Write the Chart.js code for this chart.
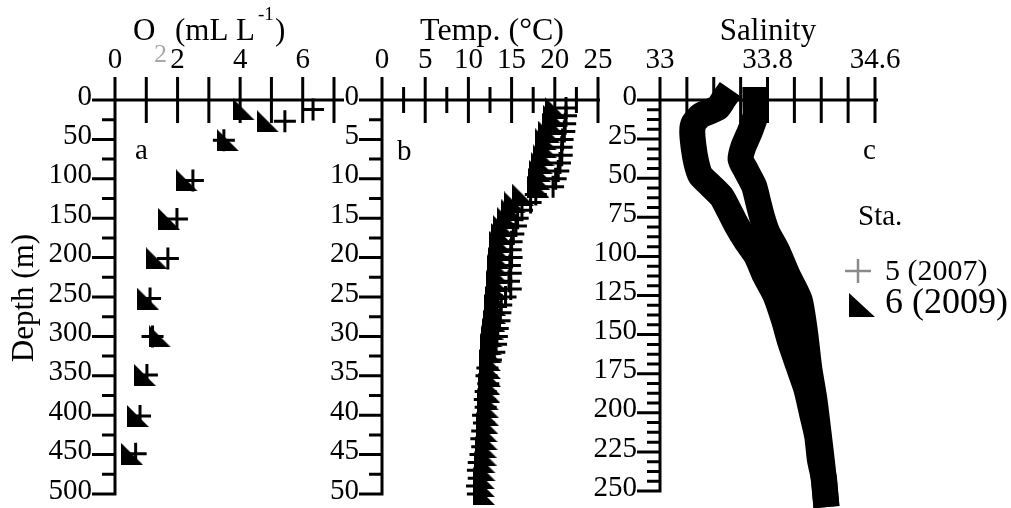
<!DOCTYPE html>
<html>
<head>
<meta charset="utf-8">
<script src="https://cdn.jsdelivr.net/npm/chart.js@4"></script>
<style>
  html, body { margin: 0; padding: 0; background: #fff; }
  #wrap { position: relative; width: 1011px; height: 508px; }
  #wrap canvas { position: absolute; left: 0; top: 0; }
</style>
</head>
<body>
<div id="wrap">
  <canvas id="panelO2" width="1011" height="508"></canvas>
  <canvas id="panelTemp" width="1011" height="508"></canvas>
  <canvas id="panelSal" width="1011" height="508"></canvas>
</div>
<script>
// ---- Dissolved oxygen (mL L-1) at discrete sampling depths ----
const o2Depth = [12, 27, 51, 102, 151, 201, 252, 300, 349, 401, 449];
const o2Sta5  = [6.33, 5.43, 3.48, 2.49, 1.98, 1.69, 1.12, 1.20, 1.02, 0.80, 0.66];
const o2Sta6  = [4.12, 4.89, 3.61, 2.30, 1.73, 1.34, 1.05, 1.44, 0.96, 0.73, 0.54];

// ---- Temperature (°C), CTD profile, upper 50 m ----
const tempDepth = [1, 2, 3, 4, 5, 6, 7, 8, 9, 10, 11, 12, 13, 14, 15, 16, 17, 18, 19, 20,
                   21, 22, 23, 24, 25, 26, 27, 28, 29, 30, 31, 32, 33, 34, 35, 36, 37, 38, 39, 40,
                   41, 42, 43, 44, 45, 46, 47, 48, 49, 50];
const tempSta5  = [21.3, 21.3, 21.2, 21.1, 20.9, 20.8, 20.8, 20.6, 20.4, 20.1, 19.8, 17.8, 17.2, 16.2, 15.7, 15.5, 15.2, 15.0, 14.9, 15.0,
                   14.8, 14.9, 14.7, 14.9, 14.3, 13.8, 13.7, 13.6, 13.4, 13.3, 13.2, 13.0, 12.6, 12.2, 12.1, 12.3, 12.0, 11.9, 12.0, 11.7,
                   11.8, 11.6, 11.5, 11.6, 11.4, 11.2, 11.1, 11.2, 11.0, 11.1];
const tempSta6  = [20.1, 19.9, 19.8, 19.3, 19.0, 19.0, 18.7, 18.5, 18.3, 18.2, 18.1, 16.3, 15.4, 15.1, 14.6, 14.1, 13.9, 13.7, 13.6, 13.5,
                   13.4, 13.4, 13.3, 13.3, 13.2, 13.1, 13.1, 13.0, 12.8, 12.7, 12.6, 12.6, 12.5, 12.5, 12.5, 12.4, 12.4, 12.3, 12.3, 12.3,
                   12.2, 12.1, 12.1, 12.0, 12.0, 11.9, 11.9, 11.8, 11.8, 11.8];

// ---- Salinity profiles, upper 250 m ----
const salDepthSta6 = [0, 5, 10, 15, 20, 30, 40, 48, 55, 62, 70, 80, 90, 100, 112, 125, 140, 155, 170, 185, 200, 215, 230, 242, 252];
const salSta6      = [33.47, 33.43, 33.30, 33.25, 33.24, 33.25, 33.27, 33.30, 33.38, 33.46, 33.51, 33.57, 33.64, 33.72, 33.78, 33.86,
                      33.92, 33.97, 34.03, 34.09, 34.13, 34.17, 34.19, 34.22, 34.23];
const salDepthSta5 = [0, 10, 20, 30, 38, 45, 55, 65, 75, 85, 96, 112, 128, 149, 171, 192, 213, 235, 252];
const salSta5      = [33.71, 33.71, 33.67, 33.62, 33.60, 33.64, 33.70, 33.73, 33.76, 33.80, 33.87, 33.95, 34.04, 34.08, 34.11,
                      34.15, 34.18, 34.21, 34.23];

// ---- Axis tick labels ----
const o2XLabels   = [0, 2, 4, 6];
const tempXLabels = [0, 5, 10, 15, 20, 25];
const salXLabels  = [33, 33.8, 34.6];
const o2YLabels   = [0, 50, 100, 150, 200, 250, 300, 350, 400, 450, 500];
const tempYLabels = [0, 5, 10, 15, 20, 25, 30, 35, 40, 45, 50];
const salYLabels  = [0, 25, 50, 75, 100, 125, 150, 175, 200, 225, 250];

const stationNames = ['5 (2007)', '6 (2009)'];

const FONT = '"Liberation Serif", "Times New Roman", serif';

// right-angled triangle marker (vertical left side, flat base)
function triangleMarker(w, h) {
  const c = document.createElement('canvas');
  c.width = w; c.height = h;
  const g = c.getContext('2d');
  g.fillStyle = '#000';
  g.beginPath();
  g.moveTo(0, 0); g.lineTo(0, h); g.lineTo(w, h); g.closePath();
  g.fill();
  return c;
}
const triMark = triangleMarker(22, 22);

function pairs(xs, ys) { return xs.map((v, i) => ({ x: v, y: ys[i] })); }

// axis lines with crossing ticks on the top axis and left-pointing ticks on the depth axis
function drawFrame(chart, f) {
  const ctx = chart.ctx;
  const xs = chart.scales.x, ys = chart.scales.y;
  const ax = xs.getPixelForValue(xs.min);
  const ay = ys.getPixelForValue(ys.min);
  const yEnd = ys.getPixelForValue(ys.max);
  ctx.save();
  ctx.strokeStyle = '#000';
  ctx.lineWidth = 3;
  ctx.lineCap = 'butt';
  ctx.beginPath();
  ctx.moveTo(ax - 23, ay);
  ctx.lineTo(xs.getPixelForValue(xs.max) + f.xOver, ay);
  ctx.moveTo(ax, ay);
  ctx.lineTo(ax, yEnd + 1.5);
  const nx = Math.round((xs.max - xs.min) / f.xStep);
  for (let i = 0; i <= nx; i++) {
    const v = xs.min + i * f.xStep;
    const px = xs.getPixelForValue(v);
    const isLong = f.allLong || f.xLabels.some(l => Math.abs(l - v) < 1e-6);
    const h = isLong ? 23 : 13;
    ctx.moveTo(px, ay - h);
    ctx.lineTo(px, i === 0 ? ay : ay + h);
  }
  const ny = Math.round((ys.max - ys.min) / f.yStep);
  for (let i = 1; i <= ny; i++) {
    const v = ys.min + i * f.yStep;
    const py = ys.getPixelForValue(v);
    const isMajor = f.yLabels.some(l => Math.abs(l - v) < 1e-6);
    ctx.moveTo(ax - (isMajor ? 23 : 13), py);
    ctx.lineTo(ax, py);
  }
  ctx.stroke();
  ctx.restore();
}

function text(ctx, str, x, y, size, opts) {
  opts = opts || {};
  ctx.save();
  ctx.font = size + 'px ' + FONT;
  ctx.fillStyle = opts.color || '#000';
  ctx.textAlign = opts.align || 'left';
  ctx.textBaseline = opts.baseline || 'alphabetic';
  ctx.fillText(str, x, y);
  ctx.restore();
}

function makePanel(id, cfg) {
  const tickFont = { family: FONT, size: 29 };
  return new Chart(document.getElementById(id), {
    type: 'scatter',
    data: { datasets: cfg.datasets },
    options: {
      responsive: false,
      animation: false,
      events: [],
      layout: { padding: cfg.padding },
      plugins: { legend: { display: false }, tooltip: { enabled: false } },
      scales: {
        x: {
          type: 'linear', position: 'top', min: cfg.xMin, max: cfg.xMax,
          afterFit: s => { s.height = 100; s.paddingLeft = 0; s.paddingRight = 0; },
          afterBuildTicks: s => { s.ticks = cfg.xLabels.map(v => ({ value: v })); },
          ticks: { callback: v => String(v), font: tickFont, color: '#000', padding: 22,
                   maxRotation: 0, minRotation: 0, autoSkip: false },
          grid: { display: false, drawTicks: false },
          border: { display: false }
        },
        y: {
          type: 'linear', position: 'left', reverse: true, min: cfg.yMin, max: cfg.yMax,
          afterFit: s => { s.width = cfg.yWidth; s.paddingTop = 0; s.paddingBottom = 0; },
          afterBuildTicks: s => { s.ticks = cfg.yLabels.map(v => ({ value: v })); },
          ticks: { callback: v => String(v), font: tickFont, color: '#000', padding: 23,
                   labelOffset: -3, autoSkip: false },
          grid: { display: false, drawTicks: false },
          border: { display: false }
        }
      }
    },
    plugins: [{
      id: 'frame',
      beforeDatasetsDraw: chart => drawFrame(chart, cfg.frame),
      afterDraw: chart => cfg.decor(chart.ctx)
    }]
  });
}

// ---- panel a: oxygen ----
makePanel('panelO2', {
  xMin: 0, xMax: 7, yMin: 0, yMax: 500,
  xLabels: o2XLabels, yLabels: o2YLabels,
  yWidth: 115,
  padding: { left: 0, top: 0, right: 1011 - 334, bottom: 8 },
  frame: { xStep: 1, yStep: 25, xOver: 10, allLong: true, xLabels: o2XLabels, yLabels: o2YLabels },
  datasets: [
    { label: stationNames[0], data: pairs(o2Sta5, o2Depth), pointStyle: 'cross', pointRadius: 11,
      pointBorderWidth: 3, pointBorderColor: '#000', pointBackgroundColor: '#000', clip: false },
    { label: stationNames[1], data: pairs(o2Sta6, o2Depth), pointStyle: triMark, pointRadius: 11,
      clip: false }
  ],
  decor: ctx => {
    text(ctx, 'O', 133, 40, 31);
    text(ctx, '2', 154, 62, 26, { color: '#a8a8a8' });
    text(ctx, '(mL L', 175, 40, 31);
    text(ctx, '-1', 258, 20, 19);
    text(ctx, ')', 275, 40, 31);
    text(ctx, 'a', 135, 159, 29);
    ctx.save();
    ctx.translate(25, 298);
    ctx.rotate(-Math.PI / 2);
    text(ctx, 'Depth (m)', 0, 0, 31, { align: 'center', baseline: 'middle' });
    ctx.restore();
  }
});

// ---- panel b: temperature ----
makePanel('panelTemp', {
  xMin: 0, xMax: 25, yMin: 0, yMax: 50,
  xLabels: tempXLabels, yLabels: tempYLabels,
  yWidth: 80,
  padding: { left: 382 - 80, top: 0, right: 1011 - 598, bottom: 13 },
  frame: { xStep: 2.5, yStep: 2.5, xOver: 2, allLong: false, xLabels: tempXLabels, yLabels: tempYLabels },
  datasets: [
    { label: stationNames[0], data: pairs(tempSta5, tempDepth), pointStyle: 'cross', pointRadius: 11,
      pointBorderWidth: 3, pointBorderColor: '#000', pointBackgroundColor: '#000', clip: false },
    { label: stationNames[1], data: pairs(tempSta6, tempDepth), pointStyle: triMark, pointRadius: 11,
      clip: false }
  ],
  decor: ctx => {
    text(ctx, 'Temp. (°C)', 492, 40, 32, { align: 'center' });
    text(ctx, 'b', 397, 160, 29);
  }
});

// ---- panel c: salinity ----
makePanel('panelSal', {
  xMin: 33, xMax: 34.6, yMin: 0, yMax: 250,
  xLabels: salXLabels, yLabels: salYLabels,
  yWidth: 100,
  padding: { left: 660 - 100, top: 0, right: 1011 - 875, bottom: 17 },
  frame: { xStep: 0.2, yStep: 6.25, xOver: 3, allLong: true, xLabels: salXLabels, yLabels: salYLabels },
  datasets: [
    { label: stationNames[0], data: pairs(salSta5, salDepthSta5), showLine: true, pointRadius: 0,
      borderColor: '#000', borderWidth: 26, borderCapStyle: 'square', borderJoinStyle: 'round',
      tension: 0.2, clip: false },
    { label: stationNames[1], data: pairs(salSta6, salDepthSta6), showLine: true, pointRadius: 0,
      borderColor: '#000', borderWidth: 26, borderCapStyle: 'square', borderJoinStyle: 'round',
      tension: 0.2, clip: false }
  ],
  decor: ctx => {
    text(ctx, 'Salinity', 768, 40, 31, { align: 'center' });
    text(ctx, 'c', 863, 159, 29);
    // station key
    text(ctx, 'Sta.', 858, 225, 29);
    ctx.save();
    ctx.strokeStyle = '#8a8a8a';
    ctx.lineWidth = 2.5;
    ctx.beginPath();
    ctx.moveTo(845, 271); ctx.lineTo(871, 271);
    ctx.moveTo(858, 259); ctx.lineTo(858, 283);
    ctx.stroke();
    ctx.fillStyle = '#000';
    ctx.beginPath();
    ctx.moveTo(849, 293); ctx.lineTo(849, 317); ctx.lineTo(875, 317); ctx.closePath();
    ctx.fill();
    ctx.restore();
    text(ctx, stationNames[0], 885, 280, 30);
    text(ctx, stationNames[1], 885, 313, 36);
  }
});
</script>
</body>
</html>
